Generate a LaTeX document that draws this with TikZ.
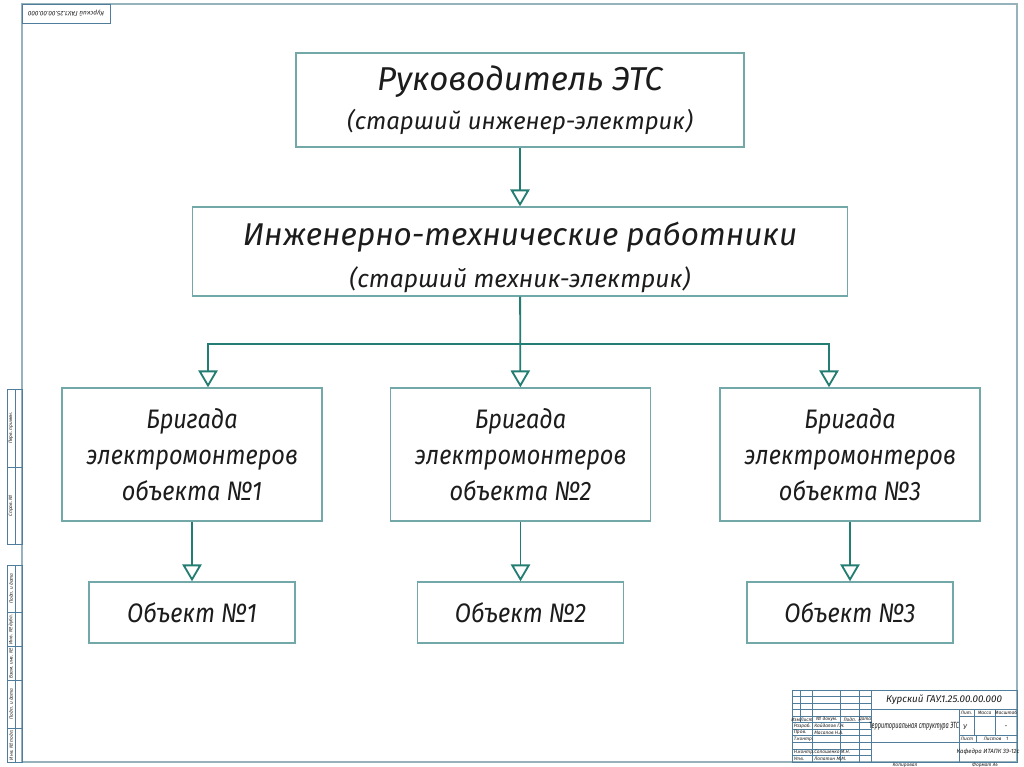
\documentclass[tikz,border=0pt]{standalone}
\usepackage{fontspec}
\usepackage{tikz}
\usetikzlibrary{arrows.meta,positioning}
\newfontfamily\gostfam{Fira Sans}
\newfontfamily\gostnarrow{Fira Sans}[FakeStretch=0.88]
\newcommand{\gost}{\gostfam\itshape}
\definecolor{linkteal}{RGB}{35,125,115}
\definecolor{boxedge}{RGB}{115,168,168}
\definecolor{frameedge}{RGB}{150,178,186}
\definecolor{stampline}{RGB}{80,125,155}
\definecolor{inkdark}{RGB}{28,28,28}
\tikzset{
  unitbox/.style={draw=boxedge, line width=1pt, fill=white, align=center, inner sep=0pt,
    text=inkdark, font=\gost\fontsize{19}{25}\selectfont},
  crewbox/.style={unitbox, font=\gostnarrow\itshape\fontsize{19}{25.5}\selectfont},
  link/.style={draw=linkteal, line width=1.3pt, -{Triangle[open, length=0.42cm, width=0.48cm]}},
  sheetline/.style={draw=frameedge, line width=1.1pt},
  cellline/.style={draw=stampline, line width=0.5pt},
  tinytext/.style={text=inkdark, inner sep=0pt, font=\gost\fontsize{3.4}{4}\selectfont}
}
\begin{document}
\begin{tikzpicture}[x=0.025cm, y=-0.025cm]
  \useasboundingbox[fill=white] (0,0) rectangle (1024,767);
  % sheet frame
  \draw[sheetline] (22,4) rectangle (1017,762);
  \draw[cellline] (22,4) rectangle (110,23);
  \node[tinytext, font=\gost\fontsize{4.6}{5}\selectfont, rotate=180] (stampcode) at (66,13.5) {Курский ГАУ.1.25.00.00.000};
  % side strips
  \draw[cellline] (7,389) rectangle (22,544) (15,389) -- (15,544) (7,467) -- (22,467);
  \draw[cellline] (7,565) rectangle (22,762) (15,565) -- (15,762);
  \foreach \yy in {612.5,646.5,680.5,728} \draw[cellline] (7,\yy) -- (22,\yy);
  \foreach \yy/\lbl in {428/Перв. примен., 505.5/Справ. №, 588.7/Подп. и дата, 629.5/Инв. № дубл., 663.5/Взам. инв. №, 704/Подп. и дата, 745/Инв. № подл.}
    \node[tinytext, rotate=90] at (11,\yy) {\lbl};
  % title block
  \draw[cellline] (792,690) rectangle (1017,762);
  \foreach \i in {1,...,10} \draw[cellline] (792,{690+\i*6.545}) -- (871,{690+\i*6.545});
  \foreach \xx in {812.7,840.7,858.9,871} \draw[cellline] (\xx,690) -- (\xx,762);
  \draw[cellline] (800.5,690) -- (800.5,722.7);
  \draw[cellline] (871,709.6) -- (1017,709.6) (871,742.3) -- (1017,742.3)
    (959,716.2) -- (1017,716.2) (959,735.8) -- (1017,735.8)
    (959,709.6) -- (959,762) (974,709.6) -- (974,735.8) (995,709.6) -- (995,735.8)
    (976,735.8) -- (976,742.3);
  \foreach \xx/\lbl in {796.2/Изм., 806.6/Лист, 826.7/№ докум., 849.8/Подп., 865/Дата}
    \node[tinytext] at (\xx,719.5) {\lbl};
  \foreach \yy/\lbl/\who in {726/Разраб./Кайдалов Г.Н., 732.5/Пров./Масалов Н.А., 739/Т.контр./, 752/Н.контр./Солошенко М.Н., 758.7/Утв./Лопатин М.М.} {
    \node[tinytext, anchor=west] at (793.5,\yy) {\lbl};
    \node[tinytext, anchor=west] at (814,\yy) {\who};
  }
  \node[tinytext, font=\gost\fontsize{7}{8}\selectfont] (code) at (944,700) {Курский ГАУ.1.25.00.00.000};
  \node[tinytext, font=\gost\fontsize{6.4}{7}\selectfont, xscale=0.62] (title) at (914,726) {Территориальная структура ЭТС};
  \foreach \xx/\lbl in {966.5/Лит., 984.5/Масса, 1006/Масштаб}
    \node[tinytext] at (\xx,713) {\lbl};
  \node[tinytext, font=\gost\fontsize{5}{6}\selectfont] at (965,727) {У};
  \node[tinytext, font=\gost\fontsize{5}{6}\selectfont] at (1006,727) {-};
  \node[tinytext] at (967,739) {Лист};
  \node[tinytext] at (996,739) {Листов\quad 1};
  \node[tinytext, font=\gost\fontsize{4.3}{5}\selectfont] (dept) at (988,752) {Кафедра ИТАПК ЗЭ-12с};
  \node[tinytext] at (905,765.3) {Копировал};
  \node[tinytext] at (985,765.3) {Формат А4};
  % structure
  \node[unitbox, minimum width=11.2cm, minimum height=2.35cm] (ruk) at (520,100)
    {{\fontsize{23.5}{27}\selectfont Руководитель ЭТС}\\[3pt]{\fontsize{17}{21}\selectfont(старший инженер-электрик)}};
  \node[unitbox, minimum width=16.375cm, minimum height=2.225cm] (itr) at (520,251.5)
    {{\fontsize{22.4}{26}\selectfont\rule{0pt}{25pt}Инженерно-технические работники}\\[5pt]{\fontsize{17.5}{21}\selectfont(старший техник-электрик)}};
  \foreach \n/\cx in {1/192, 2/520.5, 3/850} {
    \node[crewbox, minimum width=6.5cm, minimum height=3.325cm] (brig\n) at (\cx,454.5) {Бригада\\электромонтеров\\объекта №\n};
    \node[crewbox, minimum width=5.15cm, minimum height=1.525cm] (obj\n) at (\cx,612.5) {Объект №\n};
    \draw[link] (brig\n) -- (obj\n);
  }
  \draw[link] (ruk) -- (itr);
  \path (itr.south) ++(0,47) coordinate (split);
  \draw[link] (itr) -- (brig2);
  \draw[link] (split) -| ([xshift=0.4cm]brig1.north);
  \draw[link] (split) -| ([xshift=-0.525cm]brig3.north);
\end{tikzpicture}
\end{document}
